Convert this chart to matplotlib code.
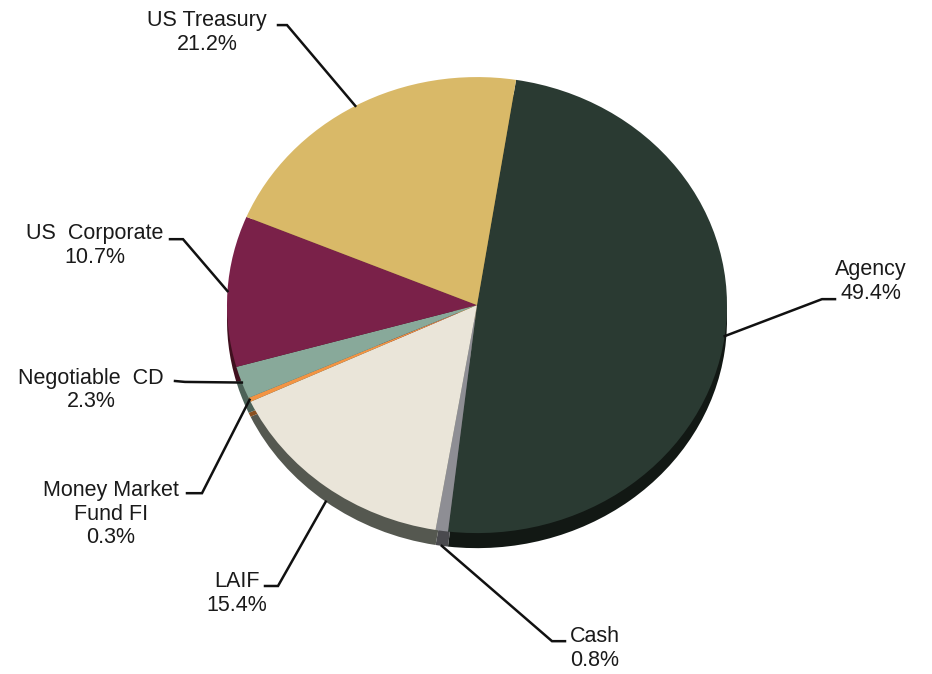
"""Portfolio allocation by security type, drawn as a tilted pie with a shaded rim."""

import numpy as np
import matplotlib.pyplot as plt

# Slices in clockwise order from the top
categories = [
    "Agency",
    "Cash",
    "LAIF",
    "Money Market\nFund FI",
    "Negotiable  CD",
    "US  Corporate",
    "US Treasury",
]
shares = [49.4, 0.8, 15.4, 0.3, 2.3, 10.7, 21.2]

top_colors = ["#2a3a32", "#8e8e94", "#eae5d9", "#f39443", "#88a99a", "#7a2149", "#d9b968"]
side_colors = ["#121814", "#4a4a4e", "#555850", "#8a5020", "#4c6258", "#40101f", "#7d6a38"]

# Label block centre and leader-line stub (start, end), in pie units
label_pos = [
    (1.576, 0.103),
    (0.472, -1.507),
    (-0.960, -1.265),
    (-1.464, -0.917),
    (-1.544, -0.373),
    (-1.528, 0.261),
    (-1.080, 1.195),
]
stubs = [
    ((1.432, 0.026), (1.380, 0.026)),
    ((0.352, -1.474), (0.300, -1.474)),
    ((-0.848, -1.232), (-0.796, -1.232)),
    ((-1.160, -0.825), (-1.100, -0.825)),
    ((-1.208, -0.333), (-1.168, -0.337)),
    ((-1.228, 0.289), (-1.176, 0.289)),
    ((-0.796, 1.228), (-0.760, 1.228)),
]
# Leaders that attach to the lower rim rather than the top face
on_rim = [False, True, True, False, False, False, False]

START_ANGLE = 81
DEPTH = 0.066

fig = plt.figure(figsize=(9.32, 6.74), dpi=100)
ax = fig.add_axes([0, 0, 1, 1])

# Rim: same pie pushed down, in darker tones
ax.pie(
    shares,
    colors=side_colors,
    startangle=START_ANGLE,
    counterclock=False,
    center=(0, -DEPTH),
    radius=1.0,
    wedgeprops=dict(linewidth=0),
)
top_wedges, _ = ax.pie(
    shares,
    colors=top_colors,
    startangle=START_ANGLE,
    counterclock=False,
    radius=1.0,
    wedgeprops=dict(linewidth=0),
)

# Squash the circle into an ellipse to give the tilted look
ax.set_aspect("auto")
ax.set_xlim(-1.908, 1.820)
ax.set_ylim(-1.618, 1.338)
ax.axis("off")

for wedge, name, share, (tx, ty), (h0, h1), rim in zip(
    top_wedges, categories, shares, label_pos, stubs, on_rim
):
    mid = np.deg2rad((wedge.theta1 + wedge.theta2) / 2)
    end_x = np.cos(mid)
    end_y = np.sin(mid) - (DEPTH if rim else 0.0)
    ax.plot(
        [h0[0], h1[0], end_x],
        [h0[1], h1[1], end_y],
        color="#111111",
        linewidth=1.8,
        solid_joinstyle="miter",
    )
    ax.text(
        tx,
        ty,
        f"{name}\n{share:.1f}%",
        ha="center",
        va="center",
        fontsize=15.5,
        family="Liberation Sans",
        color="#1a1a1a",
        linespacing=1.15,
    )

fig.savefig("out.png", dpi=100)
